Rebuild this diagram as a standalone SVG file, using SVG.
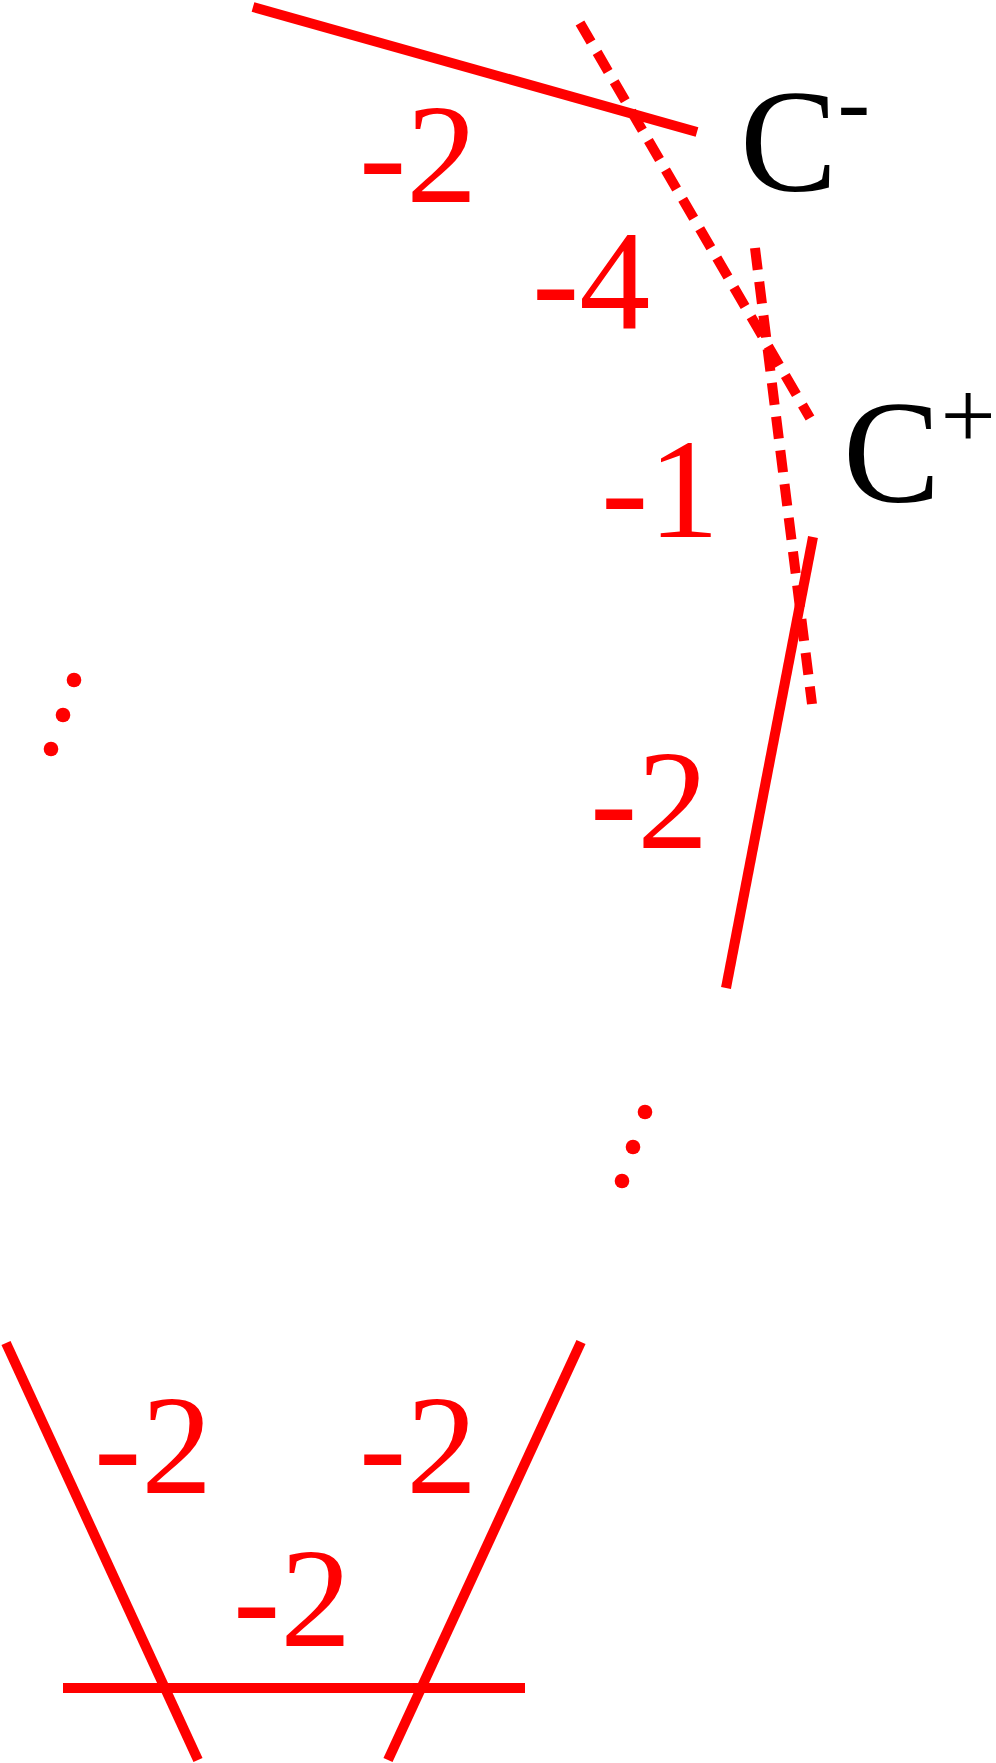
<svg xmlns="http://www.w3.org/2000/svg" width="996" height="1763" viewBox="0 0 996 1763">
<style>
.ln{stroke:#ff0000;stroke-width:10;fill:none;stroke-linecap:butt}
.ds{stroke-dasharray:22 12}
.num{font-family:'Times New Roman','Liberation Serif',Tinos,serif;font-size:142px;fill:#ff0000}
.lab{font-family:'Times New Roman','Liberation Serif',Tinos,serif;font-size:146px;fill:#000000}
.sup{font-size:98px}
.dot{fill:#ff0000}
</style>
<rect width="996" height="1763" fill="#ffffff"/>
<g id="connectors">
<line class="ln" x1="253" y1="7" x2="697" y2="132"/>
<line class="ln ds" x1="580" y1="23" x2="810" y2="418"/>
<line class="ln ds" x1="755" y1="248" x2="812" y2="704"/>
<line class="ln" x1="813" y1="537" x2="726" y2="988"/>
<line class="ln" x1="6" y1="1343" x2="198" y2="1760"/>
<line class="ln" x1="581" y1="1342" x2="388" y2="1760"/>
<line class="ln" x1="63" y1="1688" x2="525" y2="1688"/>
</g>
<g id="label-top">
<text class="num" x="359" y="202">-2</text>
</g>
<g id="label-m4">
<text class="num" x="532" y="328">-4</text>
</g>
<g id="label-m1">
<text class="num" x="601" y="537">-1</text>
</g>
<g id="label-right">
<text class="num" x="590" y="848">-2</text>
</g>
<g id="label-bl">
<text class="num" x="94" y="1493">-2</text>
</g>
<g id="label-bm">
<text class="num" x="359" y="1493">-2</text>
</g>
<g id="label-bc">
<text class="num" x="233" y="1646">-2</text>
</g>
<g id="c-minus">
<text class="lab" x="740" y="191">C<tspan class="sup" dy="-57">-</tspan></text>
</g>
<g id="c-plus">
<text class="lab" x="843" y="502">C<tspan class="sup" dy="-54">+</tspan></text>
</g>
<g id="dots-left">
<circle class="dot" cx="74" cy="680" r="7.3"/>
<circle class="dot" cx="63" cy="715" r="7.3"/>
<circle class="dot" cx="51" cy="749" r="7.3"/>
</g>
<g id="dots-right">
<circle class="dot" cx="645" cy="1112" r="7.3"/>
<circle class="dot" cx="633" cy="1147" r="7.3"/>
<circle class="dot" cx="622" cy="1181" r="7.3"/>
</g>
</svg>
